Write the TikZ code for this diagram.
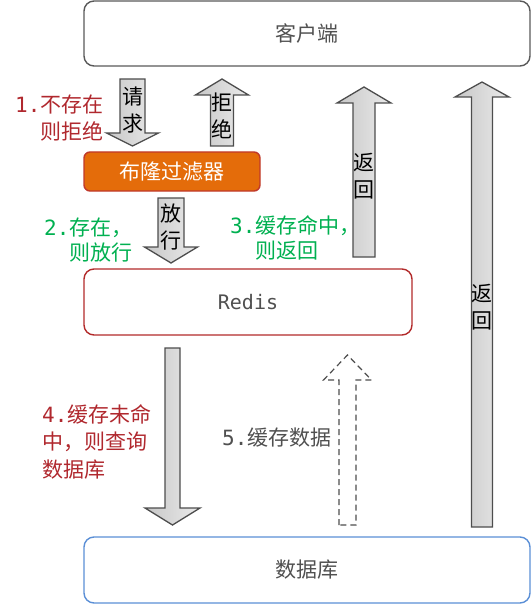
\documentclass[tikz,border=0pt]{standalone}
\usepackage{fontspec}
\setmainfont{Noto Sans CJK SC}
\setmonofont{DejaVu Sans Mono}
\usepackage{xcolor}
\usepackage{tikz}
\usetikzlibrary{positioning}

\definecolor{boxgray}{HTML}{595959}
\definecolor{txtgray}{HTML}{505050}
\definecolor{redisred}{HTML}{B22A2A}
\definecolor{bloomfill}{HTML}{E46C0A}
\definecolor{bloomline}{HTML}{C0392B}
\definecolor{dbblue}{HTML}{5B8FD6}
\definecolor{lblred}{HTML}{B0282E}
\definecolor{lblgreen}{HTML}{00B050}
\definecolor{arrline}{HTML}{4D4D4D}

% vertical block arrow: x, tail y, tip y, shaft half width, head half width, head base y
\newcommand{\blockarr}[7][blockar]{
\path[#1] (#2-#5,#3) -- (#2-#5,#7) -- (#2-#6,#7) -- (#2,#4) -- (#2+#6,#7)
  -- (#2+#5,#7) -- (#2+#5,#3) -- cycle;
}

\begin{document}
\begin{tikzpicture}[x=1pt, y=-1pt,
  box/.style={draw, rounded corners=10pt, line width=1.4pt, inner sep=0pt, text=txtgray},
  blockar/.style={draw=arrline, line width=1.3pt, left color=black!22, right color=black!8},
  dashar/.style={draw=arrline, line width=1.2pt, dash pattern=on 6pt off 4pt},
  vlbl/.style={align=center, inner sep=0pt, font=\fontsize{21}{27}\selectfont, anchor=base},
  lbl/.style={align=left, inner sep=0pt, font=\fontsize{21}{27}\selectfont, anchor=base west}]

\useasboundingbox (0,0) rectangle (531,604);

\node[box, draw=boxgray, minimum width=446pt, minimum height=65pt, font=\fontsize{21}{26}\selectfont] (client) at (307,33.5) {客户端};
\node[box, draw=bloomline, fill=bloomfill, rounded corners=6pt, text=white, minimum width=176pt, minimum height=39pt, font=\fontsize{21}{26}\selectfont] (bloom) at (172,171.5) {布隆过滤器};
\node[box, draw=redisred, minimum width=328pt, minimum height=66pt, font=\fontsize{20}{26}\ttfamily] (redis) at (248,302) {Redis};
\node[box, draw=dbblue, minimum width=446pt, minimum height=66pt, font=\fontsize{21}{26}\selectfont] (db) at (307,570) {数据库};

% block arrows
\blockarr{132.5}{79}{146}{12.5}{26}{133}
\blockarr{222}{146}{79}{11.5}{26.5}{95}
\blockarr{171}{198}{263}{13}{26.5}{247}
\blockarr{364}{257}{87}{11}{27}{103}
\blockarr{482}{527}{82}{10.5}{27}{97}
\blockarr{172.5}{348}{525}{7.5}{27.5}{508}
\blockarr[dashar]{347.5}{525}{355}{8.5}{24}{380}

\node[vlbl] (req) at (133,132) {请\\求};
\node[vlbl] (rej) at (222,138) {拒\\绝};
\node[vlbl] (pass) at (171,248) {放\\行};
\node[vlbl] (ret1) at (364,197) {返\\回};
\node[vlbl] (ret2) at (482,328) {返\\回};

% step labels
\node[lbl, text=lblred, font=\fontsize{21}{28}\selectfont] (step1) at (15,140) {\texttt{1.}不存在\\\phantom{\texttt{1.}}则拒绝};
\node[lbl, text=lblgreen, font=\fontsize{21}{25}\selectfont] (step2) at (44,260) {\texttt{2.}存在，\\\phantom{\texttt{2.}}则放行};
\node[lbl, text=lblgreen, font=\fontsize{21}{25}\selectfont] (step3) at (230,258) {\texttt{3.}缓存命中，\\\phantom{\texttt{3.}}则返回};
\node[lbl, text=lblred, font=\fontsize{21}{27.5}\selectfont] (step4) at (42,477) {\texttt{4.}缓存未命\\中，则查询\\数据库};
\node[lbl, text=txtgray] (step5) at (222,445) {\texttt{5.}缓存数据};

\end{tikzpicture}
\end{document}
